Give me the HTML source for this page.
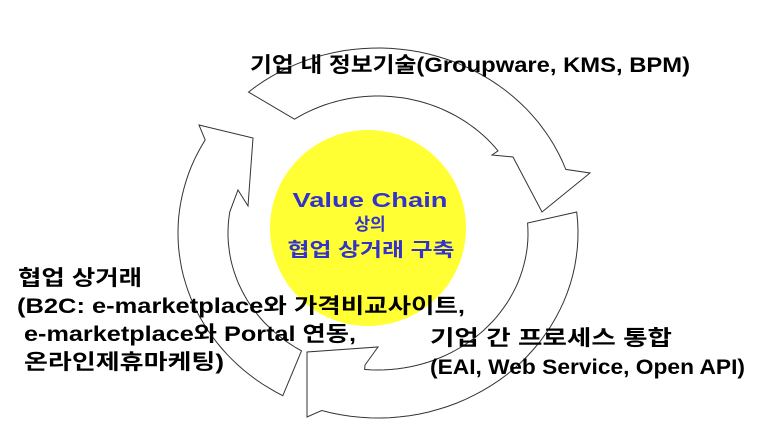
<!DOCTYPE html>
<html><head><meta charset="utf-8"><style>
html,body{margin:0;padding:0;background:#fff;width:760px;height:429px;overflow:hidden}
svg{display:block}
text{font-family:"Liberation Sans","Noto Sans CJK KR",sans-serif;font-weight:bold}
</style></head><body>
<svg id="s" width="760" height="429" viewBox="0 0 760 429">
<g id="arrows"></g>
<circle cx="368" cy="228" r="98" fill="#ffff33"/>
<g fill="#3333cc" text-anchor="middle">
<text x="370" y="207" font-size="20" textLength="155" lengthAdjust="spacingAndGlyphs">Value Chain</text>
<text x="370" y="230" font-size="17">상의</text>
<text x="371" y="256" font-size="19" textLength="167" lengthAdjust="spacingAndGlyphs">협업 상거래 구축</text>
</g>
<g fill="#000" font-size="21">
<text x="250" y="72" textLength="440" lengthAdjust="spacingAndGlyphs">기업 내 정보기술(Groupware, KMS, BPM)</text>
<text x="18" y="285" textLength="124" lengthAdjust="spacingAndGlyphs">협업 상거래</text>
<text x="17" y="313" textLength="448" lengthAdjust="spacingAndGlyphs">(B2C: e-marketplace와 가격비교사이트,</text>
<text x="24" y="341" textLength="332" lengthAdjust="spacingAndGlyphs">e-marketplace와 Portal 연동,</text>
<text x="24" y="369" textLength="200" lengthAdjust="spacingAndGlyphs">온라인제휴마케팅)</text>
<text x="430" y="345" textLength="242" lengthAdjust="spacingAndGlyphs">기업 간 프로세스 통합</text>
<text x="430" y="374" textLength="315" lengthAdjust="spacingAndGlyphs">(EAI, Web Service, Open API)</text>
</g>
</svg>
<script>
(function(){
var cx=378,cy=233,irx=150,iry=137,orx=200,ory=185;
function ang(p,rx,ry){return Math.atan2((p[1]-cy)/ry,(p[0]-cx)/rx);}
function arc(p1,p2,rx,ry,cw){
 var a1=ang(p1,rx,ry),a2=ang(p2,rx,ry),out=[],n=40,i;
 if(cw){while(a2<a1)a2+=2*Math.PI;}else{while(a2>a1)a2-=2*Math.PI;}
 for(i=0;i<=n;i++){var a=a1+(a2-a1)*i/n;out.push((cx+rx*Math.cos(a)).toFixed(1)+','+(cy+ry*Math.sin(a)).toFixed(1));}
 return out;
}
function arrow(tO,hO,head,hI,tI){
 var p=arc(tO,hO,orx,ory,true);
 head.forEach(function(h){p.push(h.join(','));});
 p=p.concat(arc(hI,tI,irx,iry,false));
 return '<polygon points="'+p.join(' ')+'" fill="#fff" stroke="#333" stroke-width="1"/>';
}
var s='';
s+=arrow([253,97],[570,168],[[590,173],[542,212],[513,157],[492,155]],[492,155],[298,124]);
s+=arrow([577,212],[325,400],[[307,417],[307,352],[378,347],[365,365]],[365,365],[527,223]);
s+=arrow([285,392],[209,142],[[199,125],[253,138],[248,206],[238,190]],[231,212],[302,350]);
document.getElementById('arrows').innerHTML=s;
})();
</script>
</body></html>
